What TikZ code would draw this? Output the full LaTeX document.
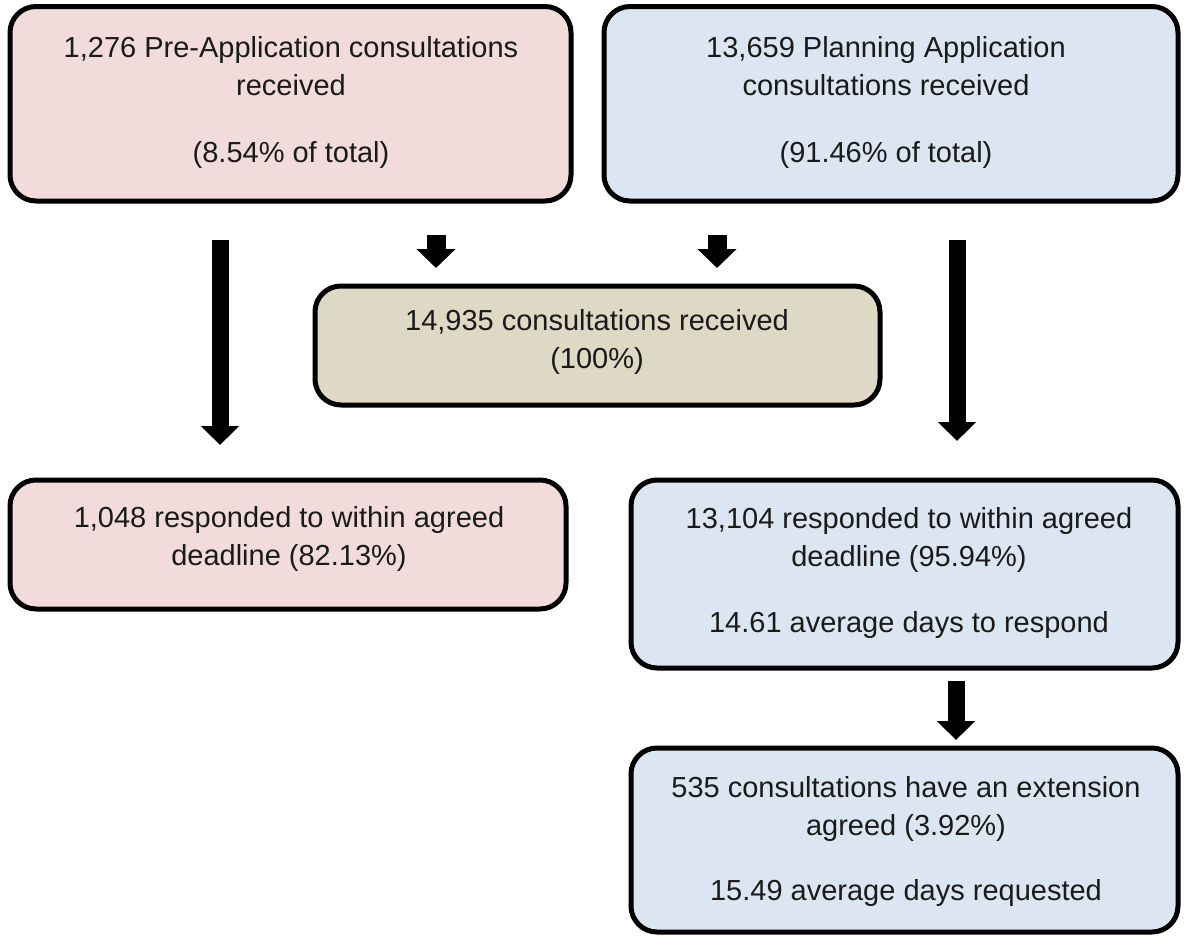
\documentclass[tikz,border=0pt]{standalone}
\usepackage{fontspec}
\setmainfont{Liberation Sans}
\usetikzlibrary{arrows.meta}
\definecolor{pinkfill}{HTML}{F2DCDB}
\definecolor{bluefill}{HTML}{DCE6F2}
\definecolor{tanfill}{HTML}{DDD9C4}
\definecolor{txt}{HTML}{1A1A1A}
\tikzset{
  box/.style={draw=black, line width=5pt, rounded corners=26pt, inner sep=0pt, outer sep=0pt},
  lbl/.style={inner sep=0pt, text=txt, font=\fontsize{29}{38}\selectfont, align=center, anchor=base},
  bigarrow/.style={line width=17pt, black, -{Triangle[length=19pt, width=37pt]}},
  smallarrow/.style={line width=19pt, black, -{Triangle[length=19pt, width=38pt]}}
}
\begin{document}
\begin{tikzpicture}[x=1pt, y=-1pt]
\useasboundingbox (0,0) rectangle (1184,937);
% boxes
\node[box, fill=pinkfill, minimum width=561pt, minimum height=194.5pt] (A) at (290.5,103.75) {};
\node[box, fill=bluefill, minimum width=574pt, minimum height=194.5pt] (B) at (891,103.75) {};
\node[box, fill=tanfill, minimum width=565pt, minimum height=119pt] (M) at (597.5,345.5) {};
\node[box, fill=pinkfill, minimum width=556pt, minimum height=129pt] (C) at (288,544.5) {};
\node[box, fill=bluefill, minimum width=547pt, minimum height=188pt] (D) at (904.5,574) {};
\node[box, fill=bluefill, minimum width=547pt, minimum height=184pt] (E) at (904.5,840) {};
% texts (anchor = baseline of the last line)
\node[lbl] (a1) at (291,95) {1,276 Pre-Application consultations\\received};
\node[lbl] (a2) at (291,162) {(8.54\% of total)};
\node[lbl] (b1) at (886,95) {13,659 Planning Application\\consultations received};
\node[lbl] (b2) at (886,162) {(91.46\% of total)};
\node[lbl] (m1) at (597,368) {14,935 consultations received\\(100\%)};
\node[lbl] (c1) at (289,565) {1,048 responded to within agreed\\deadline (82.13\%)};
\node[lbl] (d1) at (909,566) {13,104 responded to within agreed\\deadline (95.94\%)};
\node[lbl] (d2) at (909,632) {14.61 average days to respond};
\node[lbl] (e1) at (906,835) {535 consultations have an extension\\agreed (3.92\%)};
\node[lbl] (e2) at (906,900) {15.49 average days requested};
% arrow end points
\coordinate (aL1) at (220,240);
\coordinate (aL2) at (220,445);
\coordinate (aR1) at (957,240);
\coordinate (aR2) at (957,441);
\coordinate (s1a) at (436,235);
\coordinate (s1b) at (436,268);
\coordinate (s2a) at (717,235);
\coordinate (s2b) at (717,268);
\coordinate (dE1) at (956,681);
\coordinate (dE2) at (956,740);
\draw[bigarrow] (aL1) -- (aL2);
\draw[bigarrow] (aR1) -- (aR2);
\draw[smallarrow] (s1a) -- (s1b);
\draw[smallarrow] (s2a) -- (s2b);
\draw[bigarrow] (dE1) -- (dE2);
\end{tikzpicture}
\end{document}
